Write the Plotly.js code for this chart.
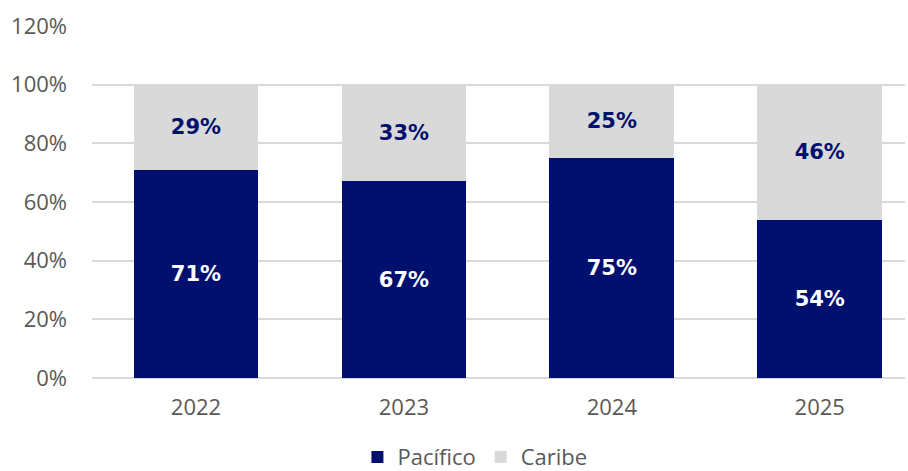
<!DOCTYPE html>
<html>
<head>
<meta charset="utf-8">
<script src="https://cdn.plot.ly/plotly-3.0.1.min.js"></script>
<style>html,body{margin:0;padding:0;background:#fff;}#chart{width:908px;height:471px;}</style>
</head>
<body>
<div id="chart"></div>
<script>
const years = ['2022', '2023', '2024', '2025'];
const pacifico = [71, 67, 75, 54];
const caribe = [29, 33, 25, 46];
const yTickVals = [0, 20, 40, 60, 80, 100, 120];
const yTickText = ['0%', '20%', '40%', '60%', '80%', '100%', '120%'];

const FONT = 'Open Sans, sans-serif';
const LABEL_FONT = 'DejaVu Sans, sans-serif';
const NAVY = '#00106E';
const GREY = '#D9D9D9';

const traces = [
  {
    type: 'bar', name: 'Pacífico', x: years, y: pacifico,
    marker: {color: NAVY},
    text: pacifico.map(v => '<b>' + v + '%</b>'),
    textposition: 'inside', insidetextanchor: 'middle',
    textfont: {family: LABEL_FONT, size: 21, color: '#FFFFFF'},
    hoverinfo: 'skip'
  },
  {
    type: 'bar', name: 'Caribe', x: years, y: caribe,
    marker: {color: GREY},
    text: caribe.map(v => '<b>' + v + '%</b>'),
    textposition: 'inside', insidetextanchor: 'middle',
    textfont: {family: LABEL_FONT, size: 21, color: NAVY},
    hoverinfo: 'skip'
  }
];

const layout = {
  width: 908, height: 471,
  margin: {l: 92, r: 3, t: 26, b: 93, autoexpand: false},
  paper_bgcolor: '#fff', plot_bgcolor: '#fff',
  barmode: 'stack', bargap: 0.4,
  font: {family: FONT, color: '#595959', size: 22},
  xaxis: {
    type: 'category', range: [-0.5, 3.41],
    showgrid: false, showline: false, zeroline: false,
    ticks: '', tickfont: {family: FONT, size: 22, color: '#595959'},
    ticklabelstandoff: 14
  },
  yaxis: {
    range: [0, 120], tickvals: yTickVals, ticktext: yTickText,
    showgrid: true, gridcolor: '#D9D9D9', gridwidth: 2,
    zeroline: true, zerolinecolor: '#D9D9D9', zerolinewidth: 2,
    showline: false, ticks: '',
    tickfont: {family: FONT, size: 22, color: '#595959'},
    ticklabelstandoff: 24
  },
  showlegend: true,
  legend: {
    orientation: 'h', traceorder: 'normal',
    x: 0.471, xanchor: 'center', y: -0.165, yanchor: 'top',
    font: {family: FONT, size: 22, color: '#595959'},
    itemwidth: 30
  }
};

Plotly.newPlot('chart', traces, layout, {displayModeBar: false, staticPlot: true});
</script>
</body>
</html>
